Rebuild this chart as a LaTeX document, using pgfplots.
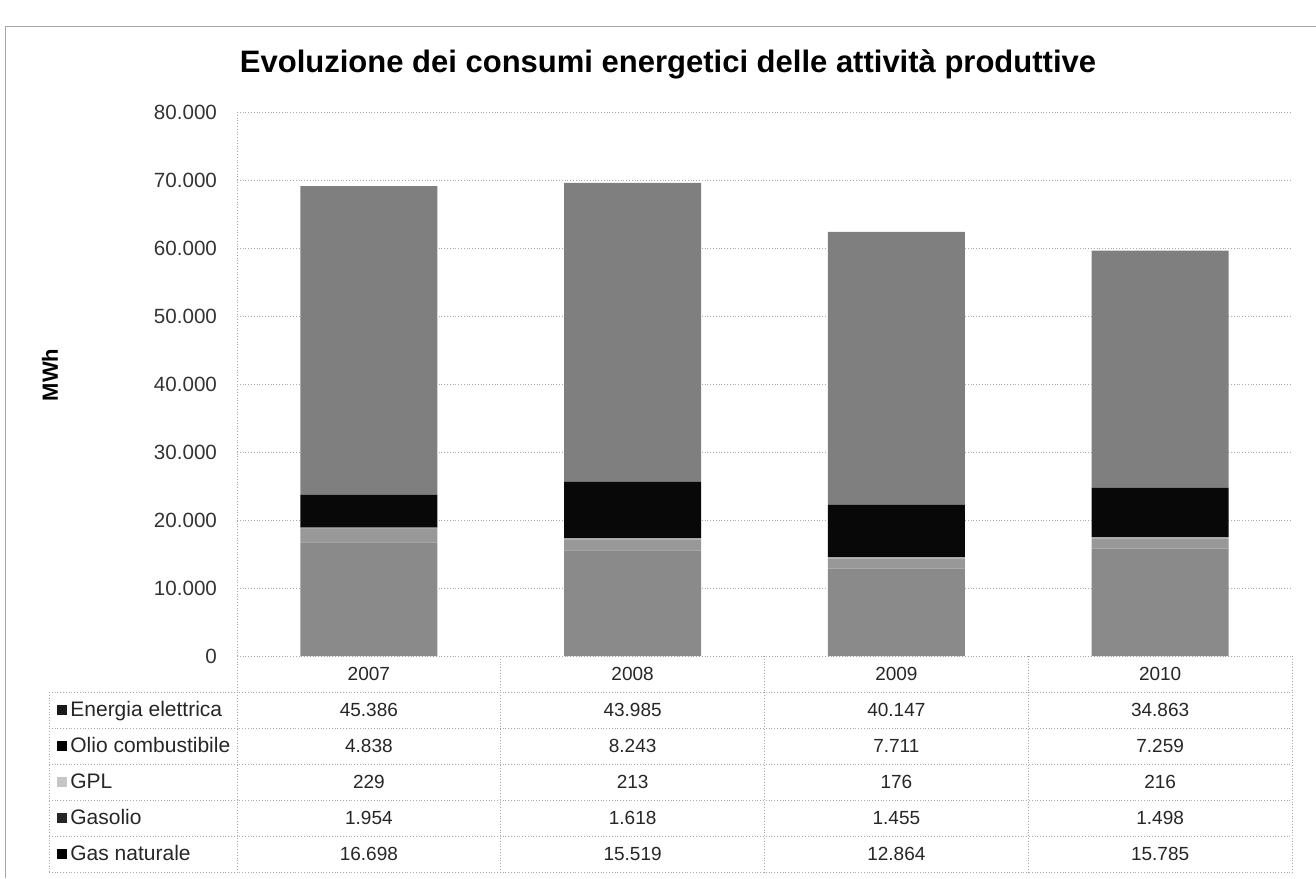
\documentclass[border=0pt]{standalone}
\usepackage{fontspec}
\setmainfont{Liberation Sans}
\usepackage{pgfplots}
\usepackage{pgfplotstable}
\pgfplotsset{compat=1.18}
\definecolor{cEle}{RGB}{127,127,127}
\definecolor{cOlio}{RGB}{8,8,8}
\definecolor{cGpl}{RGB}{165,165,165}
\definecolor{cGasolio}{RGB}{152,152,152}
\definecolor{cGas}{RGB}{138,138,138}
\definecolor{gridc}{RGB}{170,170,170}
\pgfkeys{/pgf/number format/.cd, fixed, precision=0, 1000 sep={.}, assume math mode=true}

% consumi in MWh, anni 2007-2010 (x = 0..3)
\pgfplotstableread{
x  gas    gasolio  gpl  olio  ele
0  16698  1954     229  4838  45386
1  15519  1618     213  8243  43985
2  12864  1455     176  7711  40147
3  15785  1498     216  7259  34863
}\data

\begin{document}
\begin{tikzpicture}
\begin{axis}[
  at={(0,0)}, anchor=south west,
  scale only axis, width=527.5pt, height=272pt,
  xmin=-0.5, xmax=3.5, ymin=0, ymax=80000,
  ybar stacked, bar width=0.52,
  xtick=\empty, ytick={0,10000,...,80000},
  scaled y ticks=false,
  yticklabel style={font=\fontsize{10.3}{12}\selectfont, text=black!80, xshift=-6.5pt},
  ymajorgrids, grid style={gridc, densely dotted},
  axis x line*=bottom, axis y line*=left,
  axis line style={gridc, densely dotted, -},
  major tick length=0pt,
  clip=false,
]
\addplot[fill=cGas, draw=none] table[x=x, y=gas] {\data};
\addplot[fill=cGasolio, draw=none] table[x=x, y=gasolio] {\data};
\addplot[fill=cGpl, draw=none] table[x=x, y=gpl] {\data};
\addplot[fill=cOlio, draw=none] table[x=x, y=olio] {\data};
\addplot[fill=cEle, draw=none] table[x=x, y=ele] {\data};
\end{axis}

% pixel grid of the reference: (237,656) is the axis origin
\begin{scope}[x=0.5pt, y=-0.5pt, shift={(-118.5pt,328pt)}]
\useasboundingbox (0,0) rectangle (1316,878);
\draw[gray!70, thin] (5,878) -- (5,26) -- (1316,26);
\node[font=\bfseries\fontsize{15.5}{18}\selectfont] at (668,64)
  {Evoluzione dei consumi energetici delle attività produttive};
\node[rotate=90, font=\bfseries\fontsize{11}{13}\selectfont] at (50,375) {MWh};

% data table
\begin{scope}[gridc, densely dotted, thin]
\foreach \py in {692,728,764,800,836,872} \draw (49,\py) -- (1292,\py);
\draw (49,692) -- (49,872);
\foreach \px in {237,500.75,764.5,1028.25,1292} \draw (\px,656) -- (\px,872);
\end{scope}
\foreach \r/\yr in {0/2007,1/2008,2/2009,3/2010}
  \node[font=\fontsize{9.5}{11}\selectfont, text=black!85] at ({237+263.75*(\r+0.5)},674) {\yr};
\foreach \s/\py/\lab/\mk in {ele/710/Energia elettrica/black!90,
    olio/746/Olio combustibile/black,
    gpl/782/GPL/gray!45,
    gasolio/818/Gasolio/black!85,
    gas/854/Gas naturale/black}{
  \fill[\mk] (57,\py-5) rectangle (67,\py+5);
  \node[anchor=west, font=\fontsize{10.5}{12}\selectfont, text=black!85, inner sep=1pt,
    text height=1.6ex, text depth=0.35ex] at (68,\py) {\lab};
  \foreach \r in {0,...,3}{
    \pgfplotstablegetelem{\r}{\s}\of\data
    \node[font=\fontsize{9.5}{11}\selectfont, text=black!85] at ({237+263.75*(\r+0.5)},\py)
      {\pgfmathprintnumber{\pgfplotsretval}};
  }
}
\end{scope}
\end{tikzpicture}
\end{document}
